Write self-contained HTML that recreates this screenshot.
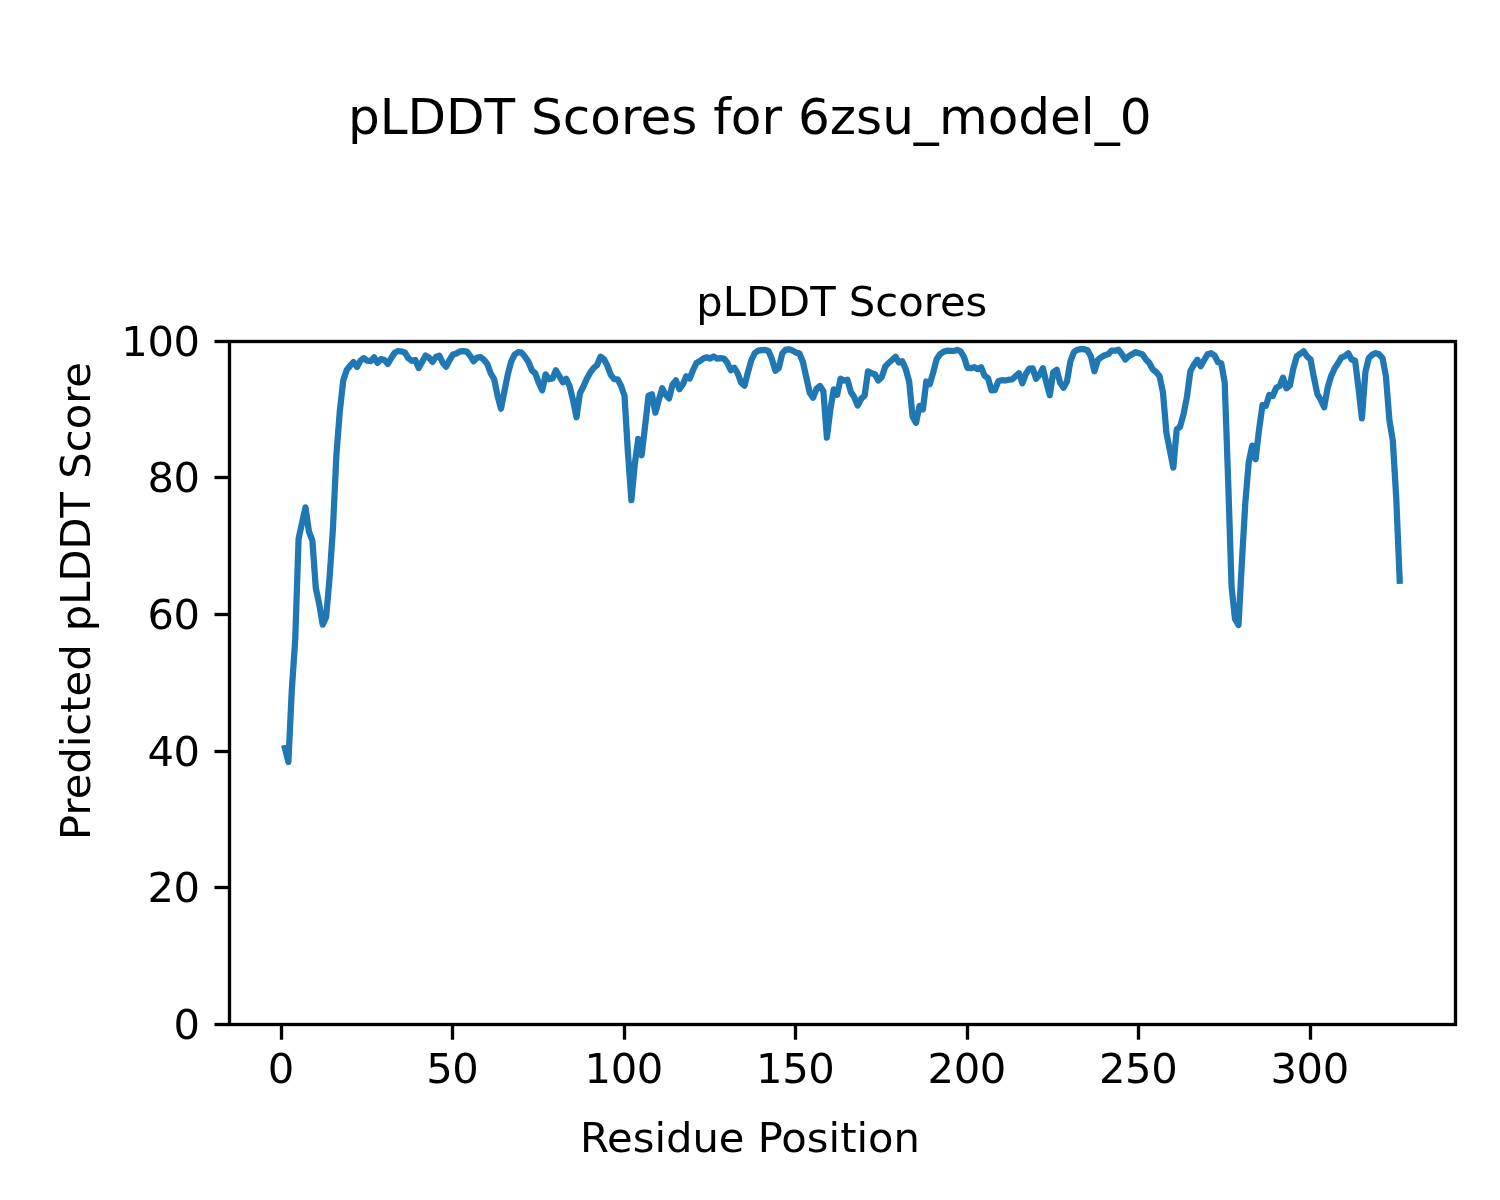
<!DOCTYPE html><html><head><meta charset="utf-8"><title>pLDDT Scores for 6zsu_model_0</title>
<style>html,body{margin:0;padding:0;background:#fff}svg{display:block}text{font-family:"DejaVu Sans","Liberation Sans",sans-serif;fill:#000}</style></head><body>
<svg width="1500" height="1200" viewBox="0 0 1500 1200">
<rect width="1500" height="1200" fill="#fff"/>
<path d="M284.9 748.0 L288.4 762.0 L291.8 690.0 L295.2 640.0 L298.6 538.7 L302.1 522.7 L305.5 507.3 L308.9 531.3 L312.4 540.7 L315.8 588.0 L319.2 604.0 L322.7 624.7 L326.1 617.3 L329.5 578.7 L332.9 529.3 L336.4 455.0 L339.8 411.3 L343.2 380.7 L346.7 370.0 L350.1 365.7 L353.5 362.1 L357.0 366.9 L360.4 360.7 L363.8 358.1 L367.2 360.7 L370.7 361.2 L374.1 357.3 L377.5 362.9 L381.0 359.1 L384.4 360.0 L387.8 363.9 L391.3 358.0 L394.7 352.7 L398.1 351.0 L401.6 351.5 L405.0 352.7 L408.4 358.3 L411.8 360.8 L415.3 360.0 L418.7 368.1 L422.1 362.0 L425.6 355.5 L429.0 357.7 L432.4 361.9 L435.9 357.0 L439.3 355.7 L442.7 362.7 L446.1 366.7 L449.6 360.0 L453.0 354.5 L456.4 353.5 L459.9 351.3 L463.3 351.2 L466.7 351.5 L470.1 355.7 L473.6 361.3 L477.0 357.5 L480.4 357.1 L483.9 359.7 L487.3 364.0 L490.7 373.3 L494.2 379.3 L497.6 396.0 L501.0 408.7 L504.4 391.3 L507.9 374.0 L511.3 361.3 L514.7 354.5 L518.2 352.2 L521.6 352.7 L525.0 356.7 L528.5 362.0 L531.9 370.3 L535.3 373.3 L538.7 382.7 L542.2 390.3 L545.6 374.3 L549.0 379.3 L552.5 378.5 L555.9 370.3 L559.3 376.0 L562.8 382.3 L566.2 378.7 L569.6 386.0 L573.0 400.0 L576.5 417.3 L579.9 393.3 L583.3 386.7 L586.8 378.7 L590.2 372.7 L593.6 368.1 L597.0 365.2 L600.5 356.7 L603.9 359.0 L607.3 365.7 L610.8 374.8 L614.2 379.2 L617.6 379.3 L621.1 386.0 L624.5 395.7 L627.9 452.0 L631.4 500.2 L634.8 464.0 L638.2 439.0 L641.6 455.3 L645.1 426.0 L648.5 395.7 L651.9 394.3 L655.4 412.7 L658.8 400.0 L662.2 388.3 L665.6 394.7 L669.1 398.5 L672.5 384.7 L675.9 380.3 L679.4 389.2 L682.8 384.5 L686.2 376.3 L689.7 378.5 L693.1 370.0 L696.5 363.0 L700.0 361.0 L703.4 358.5 L706.8 357.3 L710.2 358.5 L713.7 356.5 L717.1 358.7 L720.5 358.1 L724.0 358.5 L727.4 363.0 L730.8 370.3 L734.2 367.7 L737.7 373.3 L741.1 382.7 L744.5 385.7 L748.0 372.0 L751.4 360.0 L754.8 353.0 L758.3 350.7 L761.7 350.1 L765.1 349.9 L768.5 351.0 L772.0 359.3 L775.4 370.7 L778.8 368.0 L782.3 353.3 L785.7 349.7 L789.1 349.3 L792.6 350.5 L796.0 352.7 L799.4 353.3 L802.9 362.0 L806.3 377.3 L809.7 392.7 L813.1 397.7 L816.6 388.7 L820.0 386.0 L823.4 391.3 L826.9 437.7 L830.3 410.0 L833.7 389.3 L837.1 394.8 L840.6 378.7 L844.0 380.5 L847.4 379.7 L850.9 392.0 L854.3 397.3 L857.7 405.5 L861.2 398.7 L864.6 395.7 L868.0 371.3 L871.5 373.3 L874.9 374.3 L878.3 380.5 L881.7 377.3 L885.2 366.7 L888.6 363.0 L892.0 360.0 L895.5 356.7 L898.9 362.5 L902.3 361.3 L905.8 369.3 L909.2 381.7 L912.6 416.7 L916.0 422.8 L919.5 405.8 L922.9 409.5 L926.3 381.5 L929.8 384.2 L933.2 372.5 L936.6 359.3 L940.0 354.3 L943.5 351.7 L946.9 350.7 L950.3 350.8 L953.8 351.0 L957.2 349.9 L960.6 351.3 L964.1 357.3 L967.5 368.0 L970.9 368.1 L974.4 367.2 L977.8 369.2 L981.2 367.3 L984.6 375.7 L988.1 378.3 L991.5 390.3 L994.9 390.1 L998.4 381.0 L1001.8 380.2 L1005.2 380.5 L1008.6 379.7 L1012.1 379.5 L1015.5 376.3 L1018.9 373.3 L1022.4 383.3 L1025.8 374.0 L1029.2 368.7 L1032.7 368.3 L1036.1 378.8 L1039.5 374.7 L1042.9 368.3 L1046.4 382.7 L1049.8 395.3 L1053.2 372.3 L1056.7 369.7 L1060.1 382.7 L1063.5 387.7 L1067.0 381.3 L1070.4 361.3 L1073.8 352.3 L1077.2 349.8 L1080.7 349.2 L1084.1 349.2 L1087.5 350.3 L1091.0 356.7 L1094.4 371.3 L1097.8 360.0 L1101.2 357.3 L1104.7 355.3 L1108.1 354.3 L1111.5 350.7 L1115.0 350.7 L1118.4 349.7 L1121.8 354.0 L1125.3 359.5 L1128.7 356.3 L1132.1 354.3 L1135.5 352.1 L1139.0 353.3 L1142.4 354.3 L1145.8 359.3 L1149.3 363.0 L1152.7 369.3 L1156.1 372.0 L1159.6 376.3 L1163.0 392.7 L1166.4 432.8 L1169.8 450.0 L1173.3 467.6 L1176.7 429.5 L1180.1 426.8 L1183.6 414.0 L1187.0 396.5 L1190.4 371.1 L1193.9 364.7 L1197.3 359.7 L1200.7 366.3 L1204.2 360.0 L1207.6 354.3 L1211.0 353.2 L1214.4 355.3 L1217.9 362.0 L1221.3 363.3 L1224.7 382.6 L1228.2 482.0 L1231.6 587.0 L1235.0 619.0 L1238.5 625.0 L1241.9 562.0 L1245.3 503.0 L1248.7 462.5 L1252.2 445.6 L1255.6 459.3 L1259.0 430.0 L1262.5 405.0 L1265.9 405.9 L1269.3 395.0 L1272.8 396.0 L1276.2 387.7 L1279.6 386.0 L1283.0 377.7 L1286.5 388.3 L1289.9 385.3 L1293.3 368.7 L1296.8 356.3 L1300.2 353.7 L1303.6 351.3 L1307.0 356.3 L1310.5 359.3 L1313.9 377.3 L1317.3 394.0 L1320.8 400.0 L1324.2 407.3 L1327.6 388.0 L1331.1 376.1 L1334.5 368.7 L1337.9 363.3 L1341.3 357.7 L1344.8 356.1 L1348.2 353.3 L1351.6 359.5 L1355.1 360.7 L1358.5 388.0 L1361.9 418.3 L1365.4 372.0 L1368.8 358.0 L1372.2 354.7 L1375.7 353.1 L1379.1 354.3 L1382.5 358.0 L1385.9 376.0 L1389.4 420.3 L1392.8 440.5 L1396.2 497.0 L1399.7 580.8" fill="none" stroke="#1f77b4" stroke-width="6.25" stroke-linejoin="round" stroke-linecap="square"/>
<rect x="229.5" y="341.5" width="1226.0" height="683.0" fill="none" stroke="#000" stroke-width="3.33" stroke-linejoin="miter"/>
<line x1="281.5" y1="1024.5" x2="281.5" y2="1039.7" stroke="#000" stroke-width="3.33"/>
<text x="280.8" y="1083.4" font-size="41.67" letter-spacing="-0.4" text-anchor="middle">0</text>
<line x1="452.5" y1="1024.5" x2="452.5" y2="1039.7" stroke="#000" stroke-width="3.33"/>
<text x="452.3" y="1083.4" font-size="41.67" letter-spacing="-0.4" text-anchor="middle">50</text>
<line x1="624.5" y1="1024.5" x2="624.5" y2="1039.7" stroke="#000" stroke-width="3.33"/>
<text x="623.7" y="1083.4" font-size="41.67" letter-spacing="-0.4" text-anchor="middle">100</text>
<line x1="795.5" y1="1024.5" x2="795.5" y2="1039.7" stroke="#000" stroke-width="3.33"/>
<text x="795.2" y="1083.4" font-size="41.67" letter-spacing="-0.4" text-anchor="middle">150</text>
<line x1="967.5" y1="1024.5" x2="967.5" y2="1039.7" stroke="#000" stroke-width="3.33"/>
<text x="966.7" y="1083.4" font-size="41.67" letter-spacing="-0.4" text-anchor="middle">200</text>
<line x1="1138.5" y1="1024.5" x2="1138.5" y2="1039.7" stroke="#000" stroke-width="3.33"/>
<text x="1138.1" y="1083.4" font-size="41.67" letter-spacing="-0.4" text-anchor="middle">250</text>
<line x1="1310.5" y1="1024.5" x2="1310.5" y2="1039.7" stroke="#000" stroke-width="3.33"/>
<text x="1309.6" y="1083.4" font-size="41.67" letter-spacing="-0.4" text-anchor="middle">300</text>
<line x1="214.5" y1="1024.5" x2="229.5" y2="1024.5" stroke="#000" stroke-width="3.33"/>
<text x="199.6" y="1038.9" font-size="41.67" letter-spacing="-0.4" text-anchor="end">0</text>
<line x1="214.5" y1="887.5" x2="229.5" y2="887.5" stroke="#000" stroke-width="3.33"/>
<text x="199.6" y="901.9" font-size="41.67" letter-spacing="-0.4" text-anchor="end">20</text>
<line x1="214.5" y1="751.5" x2="229.5" y2="751.5" stroke="#000" stroke-width="3.33"/>
<text x="199.6" y="765.9" font-size="41.67" letter-spacing="-0.4" text-anchor="end">40</text>
<line x1="214.5" y1="614.5" x2="229.5" y2="614.5" stroke="#000" stroke-width="3.33"/>
<text x="199.6" y="628.9" font-size="41.67" letter-spacing="-0.4" text-anchor="end">60</text>
<line x1="214.5" y1="477.5" x2="229.5" y2="477.5" stroke="#000" stroke-width="3.33"/>
<text x="199.6" y="491.9" font-size="41.67" letter-spacing="-0.4" text-anchor="end">80</text>
<line x1="214.5" y1="341.5" x2="229.5" y2="341.5" stroke="#000" stroke-width="3.33"/>
<text x="199.6" y="355.9" font-size="41.67" letter-spacing="-0.4" text-anchor="end">100</text>
<text x="1151.6" y="133.7" font-size="50.05" text-anchor="end">pLDDT Scores for 6zsu_model_0</text>
<text x="841.8" y="316" font-size="41.67" text-anchor="middle">pLDDT Scores</text>
<text x="750" y="1152" font-size="41.67" text-anchor="middle">Residue Position</text>
<text transform="translate(90 601) rotate(-90)" font-size="41.67" text-anchor="middle">Predicted pLDDT Score</text>
</svg></body></html>
